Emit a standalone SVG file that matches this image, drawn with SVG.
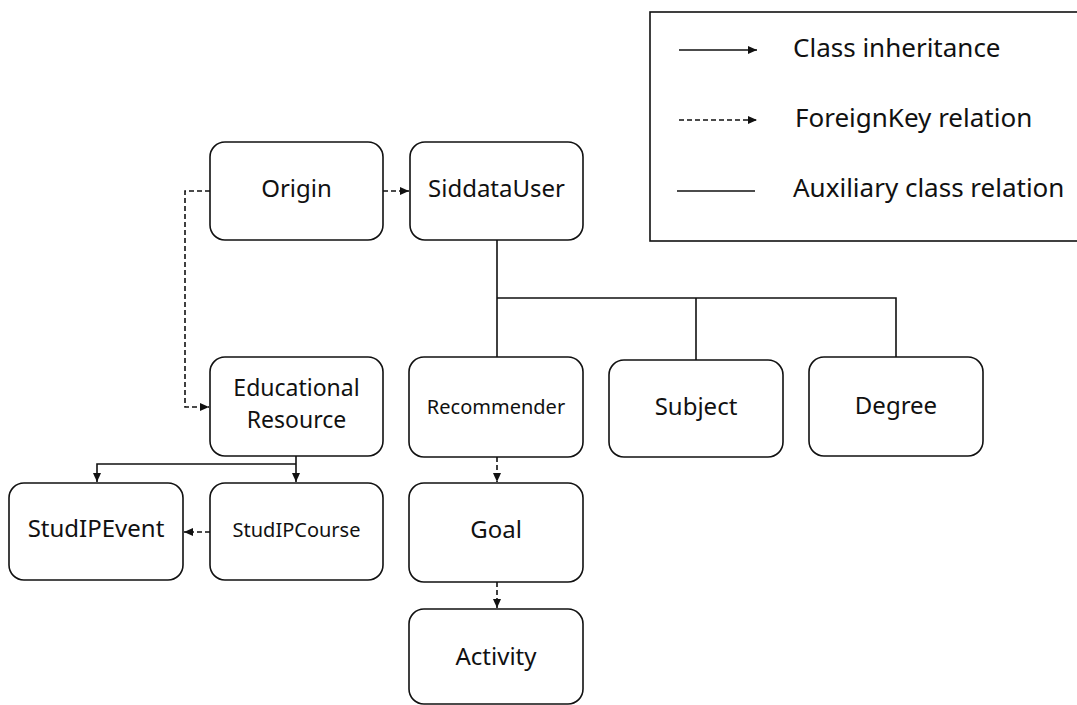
<svg xmlns="http://www.w3.org/2000/svg" width="1077" height="705" viewBox="0 0 1077 705">
<style>
.box{fill:#fff;stroke:#111;stroke-width:1.6}
.t{font-family:"Noto Sans","Open Sans","Liberation Sans",sans-serif;fill:#111;text-anchor:middle}
.lt{font-family:"Noto Sans","Open Sans","Liberation Sans",sans-serif;fill:#111;font-size:26px}
.s{fill:none;stroke:#111;stroke-width:1.6}
.d{fill:none;stroke:#111;stroke-width:1.6;stroke-dasharray:5 3}
</style>
<defs>
<marker id="ah" markerUnits="userSpaceOnUse" markerWidth="9" markerHeight="8" refX="9" refY="4" orient="auto">
<path d="M0,0 L9,4 L0,8 z" fill="#111"/>
</marker>
</defs>
<rect width="1077" height="705" fill="#fff"/>

<g id="legend">
<rect x="650" y="12" width="440" height="229" fill="#fff" stroke="#111" stroke-width="1.6"/>
<path class="s" d="M679,50 H757" marker-end="url(#ah)"/>
<text class="lt" x="793" y="57">Class inheritance</text>
<path class="d" d="M679,120 H757" marker-end="url(#ah)"/>
<text class="lt" x="795" y="127">ForeignKey relation</text>
<path class="s" d="M677,191 H755"/>
<text class="lt" x="793" y="197">Auxiliary class relation</text>
</g>

<g id="connectors">
<path class="d" d="M383,191 H409" marker-end="url(#ah)"/>
<path class="d" d="M210,191 H185 V407 H209" marker-end="url(#ah)"/>
<path class="s" d="M497,240 V357"/>
<path class="s" d="M497,298 H896 V357"/>
<path class="s" d="M696,298 V360"/>
<path class="s" d="M296,456 V482" marker-end="url(#ah)"/>
<path class="s" d="M296,464 H97 V482" marker-end="url(#ah)"/>
<path class="d" d="M210,532 H184" marker-end="url(#ah)"/>
<path class="d" d="M497,457 V482" marker-end="url(#ah)"/>
<path class="d" d="M497,582 V608" marker-end="url(#ah)"/>
</g>

<g id="origin">
<rect class="box" x="210" y="142" width="173" height="98" rx="15"/>
<text class="t" x="296.5" y="197" font-size="24">Origin</text>
</g>
<g id="siddatauser">
<rect class="box" x="410" y="142" width="173" height="98" rx="15"/>
<text class="t" x="496.5" y="197" font-size="24">SiddataUser</text>
</g>
<g id="educationalresource">
<rect class="box" x="210" y="357" width="173" height="99" rx="15"/>
<text class="t" x="296.5" y="396" font-size="23">Educational</text>
<text class="t" x="296.5" y="428" font-size="23">Resource</text>
</g>
<g id="recommender">
<rect class="box" x="409" y="357" width="174" height="100" rx="15"/>
<text class="t" x="496" y="414" font-size="20">Recommender</text>
</g>
<g id="subject">
<rect class="box" x="609" y="360" width="174" height="97" rx="15"/>
<text class="t" x="696" y="415" font-size="24">Subject</text>
</g>
<g id="degree">
<rect class="box" x="809" y="357" width="174" height="99" rx="15"/>
<text class="t" x="896" y="414" font-size="24">Degree</text>
</g>
<g id="studipevent">
<rect class="box" x="9" y="483" width="174" height="97" rx="15"/>
<text class="t" x="96" y="537" font-size="24">StudIPEvent</text>
</g>
<g id="studipcourse">
<rect class="box" x="210" y="483" width="173" height="97" rx="15"/>
<text class="t" x="296.5" y="537" font-size="20">StudIPCourse</text>
</g>
<g id="goal">
<rect class="box" x="409" y="483" width="174" height="99" rx="15"/>
<text class="t" x="496" y="538" font-size="24">Goal</text>
</g>
<g id="activity">
<rect class="box" x="409" y="609" width="174" height="95" rx="15"/>
<text class="t" x="496" y="665" font-size="24">Activity</text>
</g>
</svg>
